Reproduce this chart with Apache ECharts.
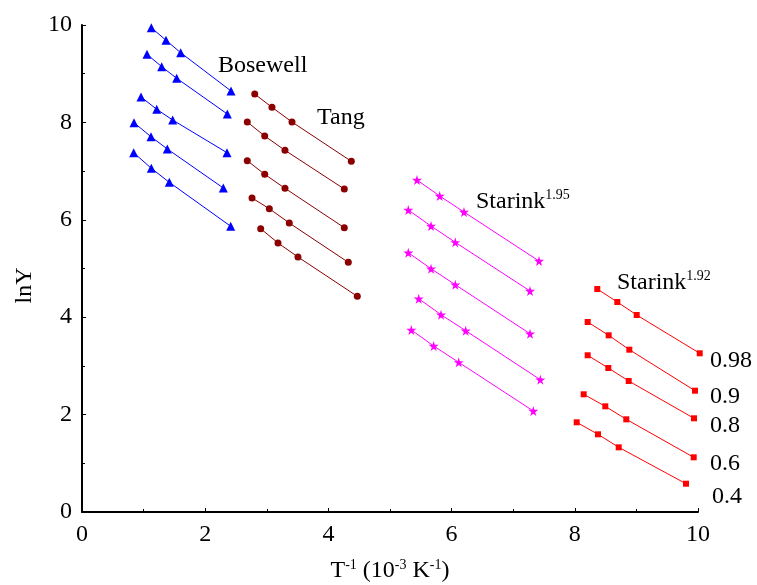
<!DOCTYPE html>
<html><head><meta charset="utf-8">
<script src="https://cdn.jsdelivr.net/npm/echarts@6/dist/echarts.min.js"></script>
<style>html,body{margin:0;padding:0;background:#fff}#c{width:757px;height:585px}</style>
</head><body><div id="c"></div>
<script>
// Bosewell (blue triangles): 5 lines, 4 points each
const bosewellX = [
  [1.125, 1.364, 1.602, 2.419],
  [1.055, 1.294, 1.537, 2.359],
  [0.958, 1.213, 1.472, 2.354],
  [0.844, 1.120, 1.385, 2.294],
  [0.839, 1.125, 1.417, 2.414]
];
const bosewellY = [
  [9.945, 9.686, 9.431, 8.645],
  [9.398, 9.144, 8.906, 8.172],
  [8.522, 8.269, 8.049, 7.378],
  [7.994, 7.706, 7.454, 6.653],
  [7.378, 7.057, 6.770, 5.867]
];
// Tang (dark red circles)
const tangX = [
  [2.804, 3.084, 3.409, 4.372],
  [2.683, 2.966, 3.295, 4.258],
  [2.683, 2.966, 3.295, 4.258],
  [2.760, 3.041, 3.365, 4.323],
  [2.901, 3.182, 3.506, 4.469]
];
const tangY = [
  [8.583, 8.310, 8.008, 7.201],
  [8.008, 7.721, 7.427, 6.632],
  [7.214, 6.934, 6.647, 5.838],
  [6.448, 6.228, 5.934, 5.127],
  [5.817, 5.524, 5.236, 4.429]
];
// Starink 1.95 (magenta stars)
const starink195X = [
  [5.438, 5.807, 6.201, 7.419],
  [5.297, 5.666, 6.060, 7.273],
  [5.297, 5.666, 6.060, 7.273],
  [5.466, 5.828, 6.229, 7.440],
  [5.346, 5.709, 6.115, 7.326]
];
const starink195Y = [
  [6.817, 6.489, 6.160, 5.154],
  [6.201, 5.873, 5.538, 4.538],
  [5.324, 4.996, 4.667, 3.661],
  [4.380, 4.051, 3.723, 2.717],
  [3.737, 3.409, 3.074, 2.074]
];
// Starink 1.92 (red squares)
const starink192X = [
  [8.365, 8.690, 9.005, 10.028],
  [8.209, 8.550, 8.885, 9.951],
  [8.209, 8.544, 8.875, 9.935],
  [8.144, 8.495, 8.836, 9.930],
  [8.031, 8.377, 8.713, 9.805]
];
const starink192Y = [
  [4.579, 4.312, 4.045, 3.259],
  [3.901, 3.628, 3.333, 2.491],
  [3.218, 2.957, 2.690, 1.924],
  [2.417, 2.170, 1.903, 1.123],
  [1.842, 1.595, 1.328, 0.581]
];
// Conversion levels (labels next to Starink 1.92 lines)
const levelLabels = ['0.98', '0.9', '0.8', '0.6', '0.4'];
const levelX = [10.195, 10.195, 10.195, 10.195, 10.227];
const levelY = [3.101, 2.361, 1.766, 0.986, 0.308];
// Method names
const methodNames = ['Bosewell', 'Tang', 'Starink1.95', 'Starink1.92'];
const methodX = [2.208, 3.815, 6.396, 8.685];
const methodY = [9.158, 8.090, 6.366, 4.702];

const xTicks = [0, 2, 4, 6, 8, 10];
const yTicks = [0, 2, 4, 6, 8, 10];

const FONT = '"Liberation Serif", "Times New Roman", serif';

const groups = [
  {x: bosewellX, y: bosewellY, color: '#0000ff', symbol: 'triangle', size: 9},
  {x: tangX, y: tangY, color: '#8b0000', symbol: 'circle', size: 7},
  {x: starink195X, y: starink195Y, color: '#ff00ff', symbol: 'path://M50,0 L61,35 L98,35 L68,57 L79,91 L50,70 L21,91 L32,57 L2,35 L39,35 Z', size: 10},
  {x: starink192X, y: starink192Y, color: '#ff0000', symbol: 'rect', size: 6}
];

const series = [];
groups.forEach(g => {
  g.x.forEach((xs, i) => {
    series.push({
      type: 'line',
      data: xs.map((v, j) => [v, g.y[i][j]]),
      symbol: g.symbol,
      symbolSize: g.size,
      showAllSymbol: true,
      clip: false,
      lineStyle: {color: g.color, width: 1},
      itemStyle: {color: g.color, opacity: 1},
      silent: true,
      animation: false,
      z: 3
    });
  });
});

const nameRich = {
  a: {fontFamily: FONT, fontSize: 24, color: '#000'},
  s: {fontFamily: FONT, fontSize: 14, color: '#000', padding: [0, 0, 12, 0]}
};

series.push({
  type: 'scatter',
  symbolSize: 0,
  silent: true,
  animation: false,
  clip: false,
  itemStyle: {opacity: 1},
  data: methodNames.map((n, i) => ({value: [methodX[i], methodY[i]], name: n})),
  label: {
    show: true,
    position: 'right',
    distance: 0,
    opacity: 1,
    formatter: p => {
      const m = p.name.match(/^Starink(.*)$/);
      if (m) return '{a|Starink}{s|' + m[1] + '}';
      return '{a|' + p.name + '}';
    },
    rich: {
      a: {fontFamily: FONT, fontSize: 24, color: '#000'},
      s: {fontFamily: FONT, fontSize: 14, color: '#000', padding: [0, 0, 14, 0]}
    }
  }
});

series.push({
  type: 'scatter',
  symbolSize: 0,
  silent: true,
  animation: false,
  clip: false,
  itemStyle: {opacity: 1},
  data: levelLabels.map((n, i) => ({value: [levelX[i], levelY[i]], name: n})),
  label: {
    show: true,
    position: 'right',
    distance: 0,
    opacity: 1,
    formatter: p => p.name,
    fontFamily: FONT, fontSize: 24, color: '#000'
  }
});

const chart = echarts.init(document.getElementById('c'), null, {renderer: 'canvas'});
chart.setOption({
  backgroundColor: '#fff',
  animation: false,
  grid: {left: 82, right: 59, top: 25, bottom: 73, containLabel: false, outerBoundsMode: 'none'},
  xAxis: {
    type: 'value', min: xTicks[0], max: xTicks[xTicks.length - 1], interval: 2,
    axisLine: {lineStyle: {color: '#000', width: 2}},
    axisTick: {show: true, inside: true, length: 4, lineStyle: {color: '#000'}},
    minorTick: {show: true, splitNumber: 2, length: 3, lineStyle: {color: '#000'}},
    splitLine: {show: false},
    axisLabel: {fontFamily: FONT, fontSize: 24, color: '#000', margin: 11},
    name: '{a|T}{s|-1}{a| (10}{s|-3}{a| K}{s|-1}{a|)}',
    nameLocation: 'middle', nameGap: 46,
    nameTextStyle: {rich: nameRich}
  },
  yAxis: {
    type: 'value', min: yTicks[0], max: yTicks[yTicks.length - 1], interval: 2,
    axisLine: {show: true, lineStyle: {color: '#000', width: 2}},
    axisTick: {show: true, inside: true, length: 4, lineStyle: {color: '#000'}},
    minorTick: {show: true, splitNumber: 2, length: 3, lineStyle: {color: '#000'}},
    splitLine: {show: false},
    axisLabel: {fontFamily: FONT, fontSize: 24, color: '#000', margin: 10},
    name: 'lnY', nameLocation: 'middle', nameGap: 38, nameRotate: 90,
    nameTextStyle: {fontFamily: FONT, fontSize: 24, color: '#000', padding: [0, 34, 0, 0]}
  },
  series: series
});
</script></body></html>
